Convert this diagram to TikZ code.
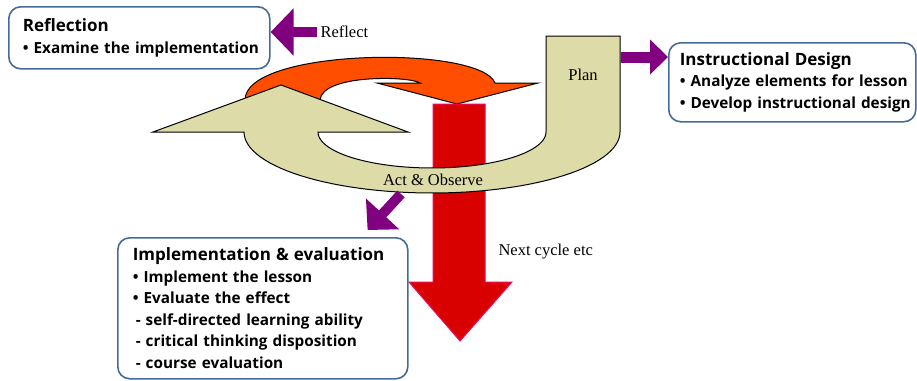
\documentclass[tikz,border=0pt]{standalone}
\usepackage{fontspec}
\setmainfont{Liberation Serif}
\newfontfamily\boxfont{Open Sans}
\usetikzlibrary{arrows.meta,positioning}

\definecolor{cyclebeige}{RGB}{221,219,168}
\definecolor{cycleorange}{RGB}{255,78,0}
\definecolor{cyclered}{RGB}{217,0,0}
\definecolor{arrowpurple}{RGB}{128,0,128}
\definecolor{boxblue}{RGB}{70,108,150}
\newcommand{\hd}[1]{{\fontsize{17}{21}\selectfont #1}}
\newcommand{\itm}[1]{\mbox{• #1}}
\newcommand{\subitm}[1]{\mbox{\hspace*{3pt}-\hspace*{5pt}#1}}

\begin{document}
\begin{tikzpicture}[x=1pt,y=-1pt,
  box/.style={draw=boxblue,line width=1.6pt,rounded corners=12pt,fill=white,align=left,
    font=\boxfont\bfseries\fontsize{15.3}{21.5}\selectfont},
  lbl/.style={font=\fontsize{16.5}{18}\selectfont},
  outl/.style={line width=1pt},
  parrow/.style={draw=arrowpurple,line width=10pt,-{Triangle[length=22pt,width=44pt]}}]
	  \useasboundingbox (0,0) rectangle (917,380);
	  \fill[white] (0,0) rectangle (917,380);
	  % cycle arrows
	  \filldraw[outl,fill=cycleorange] (245,120) -- (245,100) .. controls (245,48) and (480,45) .. (495,83)
	    -- (538,83) -- (457,104) -- (377,83) -- (420,83) .. controls (410,76) and (322,74) .. (320,100) -- (320,120) -- cycle;
	  \filldraw[outl,fill=cyclered,draw=magenta!60!red] (433,104) -- (485,104) -- (485,282) -- (512,282)
	    -- (460,341) -- (409,282) -- (433,282) -- cycle;
	  \filldraw[outl,fill=cyclebeige] (546,36) -- (620,36) -- (620,132)
	    -- plot[domain=0:180,samples=60] ({432+188*cos(\x)},{132+61*sin(\x)})
	    -- (153,132) -- (281,85) -- (408,132)
	    -- plot[domain=180:0,samples=60] ({432+114*cos(\x)},{132+36*sin(\x)}) -- cycle;
	  % labels
	  \node[lbl] (plan) at (583,75) {Plan};
	  \node[lbl] (act) at (433,180) {Act \& Observe};
	  \node[lbl,anchor=west] (next) at (495,252) {Next cycle etc};
	  \node[lbl,anchor=west] (reflect) at (317,32) {Reflect};
	  % boxes
	  \node[box,anchor=north west,text width=233pt,inner xsep=14pt,minimum height=62pt] (refl) at (8,6)
	    {\hd{Reflection}\\ \itm{Examine the implementation}};
	  \node[box,anchor=north west,text width=225pt,inner xsep=11pt,minimum height=79pt] (design) at (668,42)
	    {\hd{Instructional Design}\\ \itm{Analyze elements for lesson}\\ \itm{Develop instructional design}};
	  \node[box,anchor=north west,text width=260pt,inner xsep=15pt,minimum height=141pt] (impl) at (117,237)
	    {\hd{Implementation \& evaluation}\\ \itm{Implement the lesson}\\ \itm{Evaluate the effect}\\
	     \subitm{self-directed learning ability}\\ \subitm{critical thinking disposition}\\
	     \subitm{course evaluation}};
	  % purple arrows
	  \coordinate (planR) at (621,57);
	  \coordinate (actdn) at (401,194);
	  \draw[parrow,-{Triangle[length=23pt,width=46pt]}] (reflect.west) -- (reflect.west -| refl.east);
	  \draw[parrow,line width=11pt,-{Triangle[length=18pt,width=34pt]}] (planR) -- (planR -| design.west);
	  \draw[parrow] (actdn) -- ([xshift=-41pt,yshift=7pt]impl.north east);
\end{tikzpicture}
\end{document}
